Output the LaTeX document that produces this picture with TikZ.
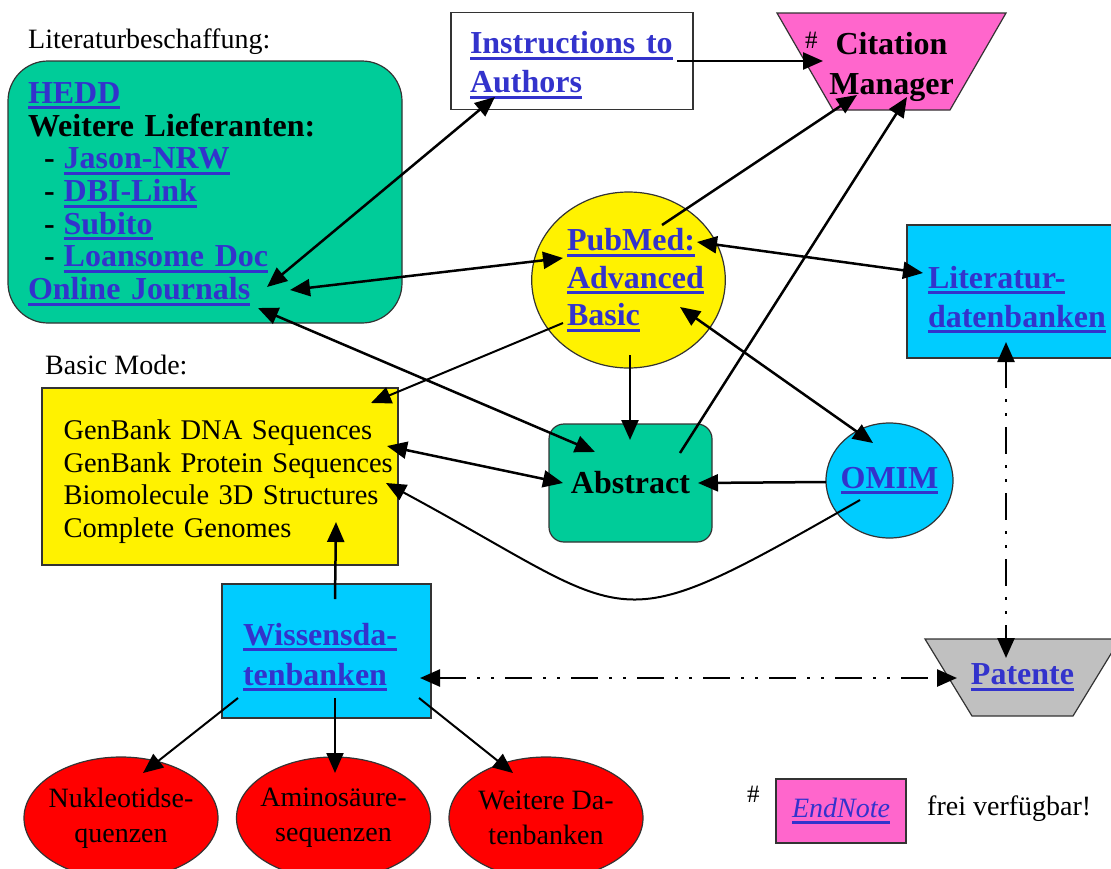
\documentclass[tikz,border=0pt]{standalone}
\usepackage{fontspec}
\setmainfont{Liberation Serif}
\usetikzlibrary{positioning}
\usetikzlibrary{arrows.meta}
\usetikzlibrary{calc}
\usetikzlibrary{shapes.geometric}

\definecolor{linkblue}{RGB}{51,51,204}
\definecolor{boxgreen}{RGB}{0,204,153}
\definecolor{boxcyan}{RGB}{0,204,255}
\definecolor{boxpink}{RGB}{255,102,204}
\definecolor{boxgray}{RGB}{192,192,192}

\newsavebox{\lnkbox}
\newcommand{\lnk}[1]{\leavevmode{\color{linkblue}\sbox{\lnkbox}{#1}\rlap{\rule[-6pt]{\wd\lnkbox}{3pt}}\usebox{\lnkbox}}}
\newcommand{\dashitem}{\hspace*{16pt}-\hspace{9pt}}
\newcommand{\topstrut}[1]{\rule{0pt}{#1}}

\tikzset{
  linktext/.style={font=\fontsize{32}{#1}\selectfont\bfseries},
  linktext/.default=33,
  plaintext/.style={font=\fontsize{28}{#1}\selectfont},
  plaintext/.default=30,
  plainbox/.style={rectangle, draw=black!80, line width=1.2pt},
  roundbox/.style={plainbox, rounded corners=#1},
  trapbox/.style={trapezium, trapezium left angle=#1, trapezium right angle=#1, shape border rotate=180,
                  trapezium stretches body, draw=black!80, line width=1.2pt, inner sep=0pt},
  conn/.style={line width=2.5pt, -{Triangle[length=20pt,width=17pt]}},
  thinconn/.style={conn, line width=2pt},
  dconn/.style={line width=2.5pt, {Triangle[length=20pt,width=17pt]}-{Triangle[length=20pt,width=17pt]}},
  ddconn/.style={dconn, dash pattern=on 27pt off 11pt on 3pt off 11pt on 3pt off 11pt}
}

\begin{document}
\begin{tikzpicture}[x=1pt, y=-1pt]
	\path[use as bounding box, fill=white] (0,0) rectangle (1111,868);

	% Upper part
	\node[plaintext, anchor=base west, inner sep=0pt] (littitle) at (28,48) {Literaturbeschaffung:};
	\node[roundbox=40pt, fill=boxgreen, minimum height=262pt, text width=354pt, inner xsep=20pt,
	      align=left, linktext=32.7] (hedd) at (205,192)
	      {\topstrut{25pt}\lnk{HEDD}\\
	       Weitere Lieferanten:\\
	       \dashitem\lnk{Jason-NRW}\\
	       \dashitem\lnk{DBI-Link}\\
	       \dashitem\lnk{Subito}\\
	       \dashitem\lnk{Loansome Doc}\\
	       \lnk{Online Journals}};
	\node[plainbox, fill=white, minimum height=97pt, text width=204pt, inner xsep=19pt,
	      align=left, linktext=39] (instr) at (572,61) {\topstrut{30pt}\lnk{Instructions to}\\\lnk{Authors}};
	\node[trapbox=60, fill=boxpink, minimum width=229pt,
	      label={[name=citmantext, align=center, linktext=40, yshift=-5pt]center:{\llap{\raisebox{6pt}{\normalfont\fontsize{25}{25}\selectfont\#}\hspace{18pt}}Citation\\Manager}}]
	      (citman) at (891.5,61.5) {\rule{0pt}{97pt}};
	\node[ellipse, draw=black!80, line width=1.2pt, fill=yellow, minimum width=193pt, minimum height=176pt,
	      inner xsep=-7pt, inner ysep=0pt, align=left, linktext=37.5] (pubmed) at (628.5,280)
	      {\hspace*{14pt}\lnk{PubMed:}\\\hspace*{14pt}\lnk{Advanced}\\\hspace*{14pt}\lnk{Basic}};
	\node[plainbox, fill=boxcyan, minimum height=133pt, text width=181pt, inner xsep=21pt,
	      align=left, linktext=39] (litdb) at (1018.5,291.5) {\topstrut{38pt}\lnk{Literatur-}\\\lnk{datenbanken}};

	% Middle part
	\node[plaintext, anchor=base west, inner sep=0pt] (basicmode) at (45,374) {Basic Mode:};
	\node[plainbox, fill=yellow, minimum height=177pt, text width=313pt, inner xsep=21.5pt,
	      align=left, font=\fontsize{28.5}{32.7}\selectfont] (genbank) at (220,476.5)
	      {\topstrut{30pt}\mbox{GenBank DNA Sequences}\\\mbox{GenBank Protein Sequences}\\\mbox{Biomolecule 3D Structures}\\\mbox{Complete Genomes}};
	\node[roundbox=15pt, fill=boxgreen, minimum width=163pt, minimum height=118pt, linktext]
	      (abstract) at (630.5,483) {Abstract};
	\node[ellipse, draw=black!80, line width=1.2pt, fill=boxcyan, minimum width=127pt, minimum height=115pt,
	      inner xsep=-8pt, inner ysep=0pt, linktext] (omim) at (889.5,480.5) {\lnk{OMIM}};

	% Lower part
	\node[plainbox, fill=boxcyan, minimum height=134pt, text width=167pt, inner xsep=21pt,
	      align=left, linktext=40] (wissen) at (326.5,651) {\topstrut{34pt}\lnk{Wissensda-}\\\lnk{tenbanken}};
	\node[trapbox=58.6, fill=boxgray, minimum width=195pt,
	      label={[name=patentetext, linktext]center:\lnk{Patente}}] (patente) at (1022.5,677.5) {\rule{0pt}{77pt}};
	\foreach \name/\x/\txt in {nukleo/121/{Nukleotidse-\\quenzen},
	                           amino/333.5/{Aminosäure-\\sequenzen},
	                           weitere/546/{Weitere Da-\\tenbanken}}
	  \node[ellipse, draw=black!80, line width=1.2pt, fill=red, minimum width=194pt, minimum height=122pt,
	        inner xsep=-5pt, align=center, plaintext=35] (\name) at (\x,818) {\txt};

	% Legend
	\node[font=\fontsize{25}{25}\selectfont, anchor=base west, inner sep=0pt] (hash) at (747,802) {\#};
	\node[plainbox, fill=boxpink, minimum width=130pt, minimum height=64pt,
	      font=\fontsize{28}{30}\selectfont\itshape] (endnote) at (841,811) {\lnk{EndNote}};
	\node[plaintext, anchor=base west, inner sep=0pt] (frei) at (927,815) {frei verfügbar!};

	% Draw the connectors
	\draw[conn] ($(instr)+(105,0)$) -- ($(citman)+(-68.5,-0.5)$);
	\draw[dconn] ($(hedd)+(62,95)$) -- ($(instr)+(-77,36)$);
	\draw[dconn] ($(hedd)+(85,98)$) -- ($(pubmed)+(-65.5,-22)$);
	\draw[dconn] ($(hedd)+(53,116)$) -- ($(abstract)+(-35.5,-31)$);
	\draw[conn] ($(pubmed)+(33.5,-55)$) -- ($(citman)+(-34.5,33.5)$);
	\draw[conn] ($(abstract)+(49.5,-30)$) -- ($(citman)+(15.5,35.5)$);
	\draw[dconn] ($(pubmed)+(68.5,-38)$) -- ($(litdb)+(-95.5,-18.5)$);
	\draw[thinconn] ($(pubmed)+(-65.5,43)$) -- ($(genbank)+(151,-73.5)$);
	\draw[conn] ($(pubmed)+(1.5,75)$) -- ($(abstract)+(-0.5,-43)$);
	\draw[dconn] ($(omim)+(-16.5,-37.5)$) -- ($(pubmed)+(51.5,27)$);
	\draw[conn] ($(omim)+(-63.5,1.5)$) -- ($(abstract)+(67.5,0)$);
	\draw[dconn] ($(genbank)+(167,-30.5)$) -- ($(abstract)+(-67.5,0)$);
	\draw[thinconn] ($(omim)+(-29.5,19.5)$) .. controls +(-256,146) and +(256,138) .. ($(genbank)+(166,6.5)$);
	\draw[conn] ($(wissen)+(8.5,-52)$) -- ($(genbank)+(116,45.5)$);
	\draw[ddconn] ($(wissen)+(93.5,27)$) -- ($(patente)+(-65.5,0.5)$);
	\draw[ddconn] ($(litdb)+(-12.5,50.5)$) -- ($(patente)+(-16.5,-19.5)$);
	\draw[thinconn] ($(wissen)+(-88.5,47)$) -- ($(nukleo)+(22,-45)$);
	\draw[thinconn] ($(wissen)+(8.5,47)$) -- ($(amino)+(1.5,-45)$);
	\draw[thinconn] ($(wissen)+(92.5,47)$) -- ($(weitere)+(-33,-45)$);
\end{tikzpicture}
\end{document}
